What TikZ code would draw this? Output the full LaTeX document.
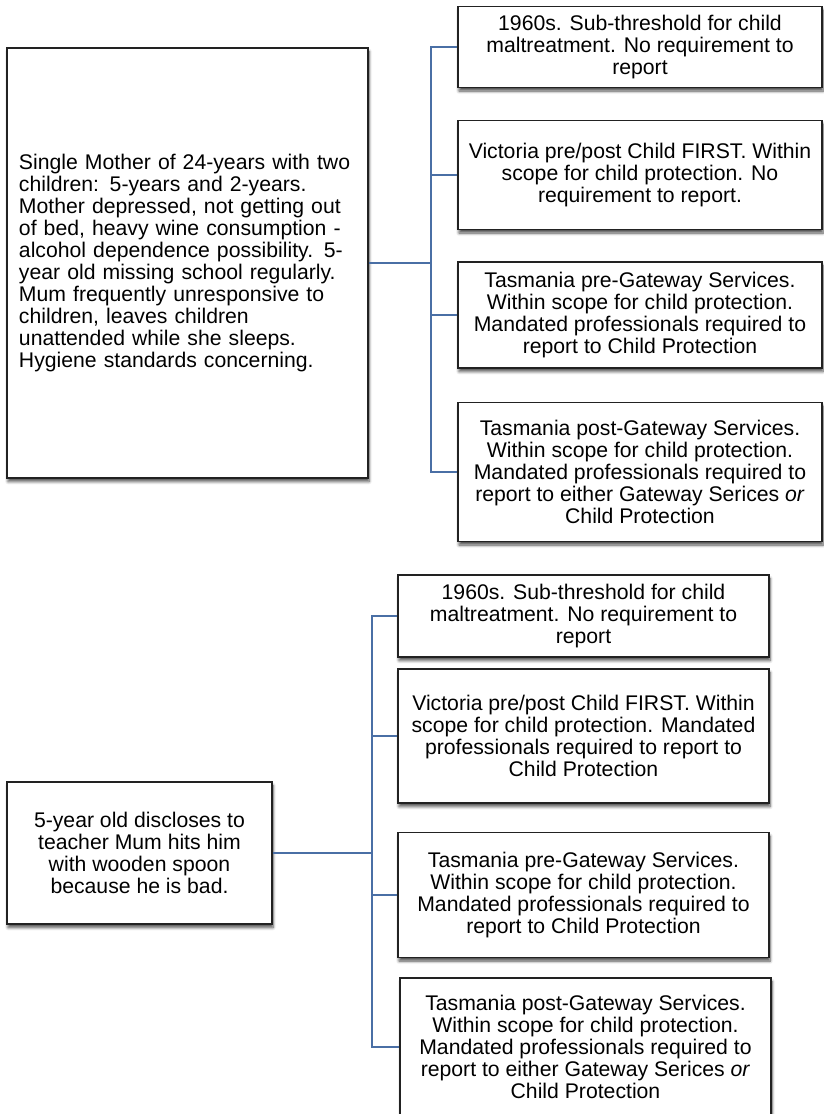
\documentclass[tikz,border=0pt]{standalone}
\usepackage{fontspec}
\setmainfont{Liberation Sans}
\usetikzlibrary{shadows.blur}
\definecolor{linkblue}{HTML}{4A6FA5}
\definecolor{boxline}{HTML}{222222}
\tikzset{
  casebox/.style={draw=boxline, line width=1.4pt, fill=white, rectangle,
    inner sep=0pt,
    blur shadow={shadow xshift=1pt, shadow yshift=-3.5pt, shadow blur steps=6,
      shadow blur radius=3pt, shadow opacity=70},
    font=\fontsize{21.2}{22}\selectfont},
  outcome/.style={casebox, align=center},
  link/.style={draw=linkblue, line width=1.3pt}
}
\begin{document}
\begin{tikzpicture}[x=1pt,y=-1pt]
\useasboundingbox (0,0) rectangle (823,1114);

% ---- first scenario ----
\node[casebox, align=left, minimum width=361pt, minimum height=430pt,
      text width=337pt] (m1) at (187.5,263)
 {Single Mother of 24-years with two\\
  children: 5-years and 2-years.\\
  Mother depressed, not getting out\\
  of bed, heavy wine consumption -\\
  alcohol dependence possibility. 5-\\
  year old missing school regularly.\\
  Mum frequently unresponsive to\\
  children, leaves children\\
  unattended while she sleeps.\\
  Hygiene standards concerning.};

\node[outcome, minimum width=364pt, minimum height=81pt] (t1) at (640,47)
 {1960s. Sub-threshold for child\\ maltreatment. No requirement to\\ report};
\node[outcome, minimum width=364pt, minimum height=109pt] (t2) at (640,175)
 {Victoria pre/post Child FIRST. Within\\ scope for child protection. No\\ requirement to report.};
\node[outcome, minimum width=364pt, minimum height=106pt] (t3) at (640,315)
 {Tasmania pre-Gateway Services.\\ Within scope for child protection.\\ Mandated professionals required to\\ report to Child Protection};
\node[outcome, minimum width=364pt, minimum height=139pt] (t4) at (640,472)
 {Tasmania post-Gateway Services.\\ Within scope for child protection.\\ Mandated professionals required to\\ report to either Gateway Serices \textit{or}\\ Child Protection};

\coordinate (bus1) at (431,263);
\draw[link] (m1.east) -- (bus1);
\draw[link] (bus1) |- (t1.west);
\draw[link] (bus1) |- (t2.west);
\draw[link] (bus1) |- (t3.west);
\draw[link] (bus1) |- (t4.west);

% ---- second scenario ----
\node[outcome, minimum width=265pt, minimum height=142pt] (m2) at (139.5,853)
 {5-year old discloses to\\ teacher Mum hits him\\ with wooden spoon\\ because he is bad.};

\node[outcome, minimum width=371pt, minimum height=82pt] (b1) at (583.5,616)
 {1960s. Sub-threshold for child\\ maltreatment. No requirement to\\ report};
\node[outcome, minimum width=371pt, minimum height=134pt] (b2) at (583.5,736)
 {Victoria pre/post Child FIRST. Within\\ scope for child protection. Mandated\\ professionals required to report to\\ Child Protection};
\node[outcome, minimum width=371pt, minimum height=125pt] (b3) at (583.5,895)
 {Tasmania pre-Gateway Services.\\ Within scope for child protection.\\ Mandated professionals required to\\ report to Child Protection};
\node[outcome, minimum width=371pt, minimum height=138pt] (b4) at (585.5,1047)
 {Tasmania post-Gateway Services.\\ Within scope for child protection.\\ Mandated professionals required to\\ report to either Gateway Serices \textit{or}\\ Child Protection};

\coordinate (bus2) at (372,853);
\draw[link] (m2.east) -- (bus2);
\draw[link] (bus2) |- (b1.west);
\draw[link] (bus2) |- (b2.west);
\draw[link] (bus2) |- (b3.west);
\draw[link] (bus2) |- (b4.west);
\end{tikzpicture}
\end{document}
